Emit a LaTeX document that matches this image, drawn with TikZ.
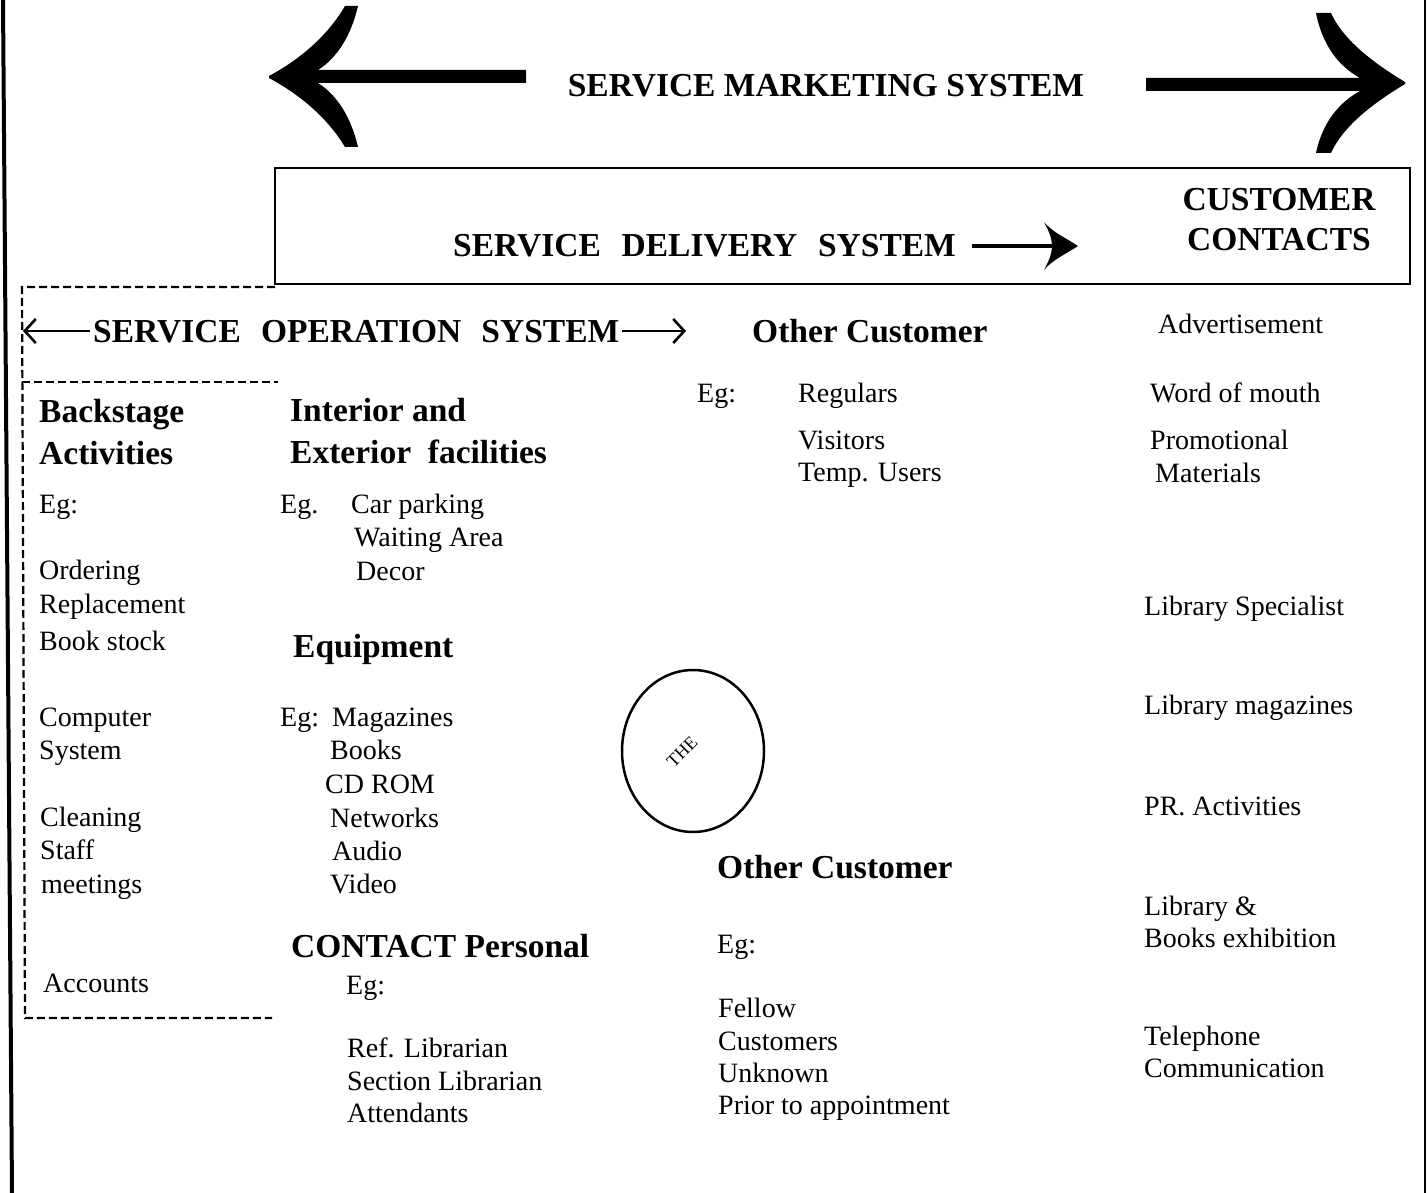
\documentclass[tikz,border=0pt]{standalone}
\usepackage{fontspec}
\setmainfont{Liberation Serif}
\usetikzlibrary{arrows.meta,shapes.geometric}
\newcommand\bodyf{\fontsize{28}{33}\selectfont}
\newcommand\headf{\fontsize{33.5}{40}\selectfont\bfseries}
\tikzset{
  txt/.style={anchor=base west, inner sep=0pt, font=\bodyf},
  hd/.style={anchor=base west, inner sep=0pt, font=\headf},
  dline/.style={line width=2.2pt, dash pattern=on 8pt off 4pt},
  sosarrow/.style={line width=2.4pt, -{Straight Barb[length=11pt,width=24pt,line width=2.6pt]}},
}
\begin{document}
\begin{tikzpicture}[x=1pt,y=-1pt]
\useasboundingbox (0,0) rectangle (1428,1193);
% frame lines
\coordinate (lt) at (3,0); \coordinate (lb) at (12,1193);
\draw[line width=4pt] (lt) -- (lb);
\coordinate (rt) at (1425,0); \coordinate (rb) at (1425,1193);
\draw[line width=2pt] (rt) -- (rb);
% big left arrow
\fill (269,76) .. controls (295,62) and (325,40) .. (345,6) -- (358,6)
  .. controls (351,36) and (337,58) .. (318,70) -- (526,70) -- (526,83) -- (318,83)
  .. controls (337,95) and (351,117) .. (358,147) -- (345,147)
  .. controls (325,114) and (295,92) .. (269,78) -- cycle;
% big right arrow
\fill (1405,82) .. controls (1382,68) and (1345,44) .. (1331,13) -- (1316,13)
  .. controls (1322,44) and (1338,66) .. (1360,78) -- (1146,78) -- (1146,91) -- (1360,91)
  .. controls (1338,103) and (1322,124) .. (1316,153) -- (1331,153)
  .. controls (1345,122) and (1382,98) .. (1405,84) -- cycle;
\node[hd, anchor=base] (sms) at (826,97) {SERVICE MARKETING SYSTEM};
% delivery box
\draw[line width=2pt] (275,168) rectangle (1410,284);
\node[hd] (sds) at (453,257) {SERVICE\hspace{0.62em}DELIVERY\hspace{0.62em}SYSTEM};
\coordinate (da) at (972,246); \coordinate (db) at (1054,246);
\draw[line width=4.5pt] (da) -- (db);
\fill (1078,246) .. controls (1066,238) and (1052,232) .. (1044,222)
  .. controls (1050,233) and (1052,240) .. (1052,246)
  .. controls (1052,252) and (1050,259) .. (1044,270)
  .. controls (1052,260) and (1066,254) .. (1078,246) -- cycle;
\node[hd, anchor=base] (cc1) at (1279,211) {CUSTOMER};
\node[hd, anchor=base] (cc2) at (1279,251) {CONTACTS};
% dashed frames
\draw[dline] (275,287) -- (22,287) -- (25,1018) -- (272,1018);
\draw[dline] (22,382) -- (278,382);
% service operation system
\node[hd] (sos) at (93,342) {SERVICE\hspace{0.6em}OPERATION\hspace{0.6em}SYSTEM};
\coordinate (sa1) at (90,331); \coordinate (sa2) at (23,331);
\draw[sosarrow] (sa1) -- (sa2);
\coordinate (sb1) at (622,331); \coordinate (sb2) at (686,331);
\draw[sosarrow] (sb1) -- (sb2);
\node[hd] (oc1) at (752,342) {Other Customer};
% right column
\node[txt] (r1) at (1158,334) {Advertisement};
\node[txt] (r2) at (1150,402) {Word of mouth};
\node[txt] (r3) at (1150,449) {Promotional};
\node[txt] (r4) at (1155,482) {Materials};
\node[txt] (r5) at (1144,615) {Library Specialist};
\node[txt] (r6) at (1144,714) {Library magazines};
\node[txt] (r7) at (1144,815) {PR. Activities};
\node[txt] (r8) at (1144,915) {Library \&};
\node[txt] (r9) at (1144,947) {Books exhibition};
\node[txt] (r10) at (1144,1045) {Telephone};
\node[txt] (r11) at (1144,1077) {Communication};
% other customer top
\node[txt] (e1) at (697,402) {Eg:};
\node[txt] (o1) at (798,402) {Regulars};
\node[txt] (o2) at (798,449) {Visitors};
\node[txt] (o3) at (798,481) {Temp. Users};
% backstage
\node[hd] (b1) at (39,422) {Backstage};
\node[hd] (b2) at (39,464) {Activities};
\node[txt] (b3) at (39,513) {Eg:};
\node[txt] (b4) at (39,579) {Ordering};
\node[txt] (b5) at (39,613) {Replacement};
\node[txt] (b6) at (39,650) {Book stock};
\node[txt] (b7) at (39,726) {Computer};
\node[txt] (b8) at (39,759) {System};
\node[txt] (b9) at (40,826) {Cleaning};
\node[txt] (b10) at (40,859) {Staff};
\node[txt] (b11) at (41,893) {meetings};
\node[txt] (b12) at (43,992) {Accounts};
% interior
\node[hd] (i1) at (290,421) {Interior and};
\node[hd] (i2) at (290,463) {Exterior\hspace{0.5em}facilities};
\node[txt] (i3) at (280,513) {Eg.};
\node[txt] (i4) at (351,513) {Car parking};
\node[txt] (i5) at (354,546) {Waiting Area};
\node[txt] (i6) at (356,580) {Decor};
% equipment
\node[hd] (q1) at (293,657) {Equipment};
\node[txt] (q2) at (280,726) {Eg:};
\node[txt] (q3) at (332,726) {Magazines};
\node[txt] (q4) at (330,759) {Books};
\node[txt] (q5) at (325,793) {CD ROM};
\node[txt] (q6) at (330,827) {Networks};
\node[txt] (q7) at (332,860) {Audio};
\node[txt] (q8) at (330,893) {Video};
% contact personal
\node[hd] (c1) at (291,957) {CONTACT Personal};
\node[txt] (c2) at (346,994) {Eg:};
\node[txt] (c3) at (347,1057) {Ref. Librarian};
\node[txt] (c4) at (347,1090) {Section Librarian};
\node[txt] (c5) at (347,1122) {Attendants};
% circle and its text
\node[draw, line width=2.5pt, ellipse, minimum width=142pt, minimum height=162pt, inner sep=0pt] (circ) at (693,751) {};
\node[rotate=45, inner sep=0pt, font=\fontsize{18}{20}\selectfont] (the) at (682,752) {THE};
% other customer bottom
\node[hd] (oc2) at (717,878) {Other Customer};
\node[txt] (f1) at (717,953) {Eg:};
\node[txt] (f2) at (718,1017) {Fellow};
\node[txt] (f3) at (718,1050) {Customers};
\node[txt] (f4) at (718,1082) {Unknown};
\node[txt] (f5) at (718,1114) {Prior to appointment};
\end{tikzpicture}
\end{document}
